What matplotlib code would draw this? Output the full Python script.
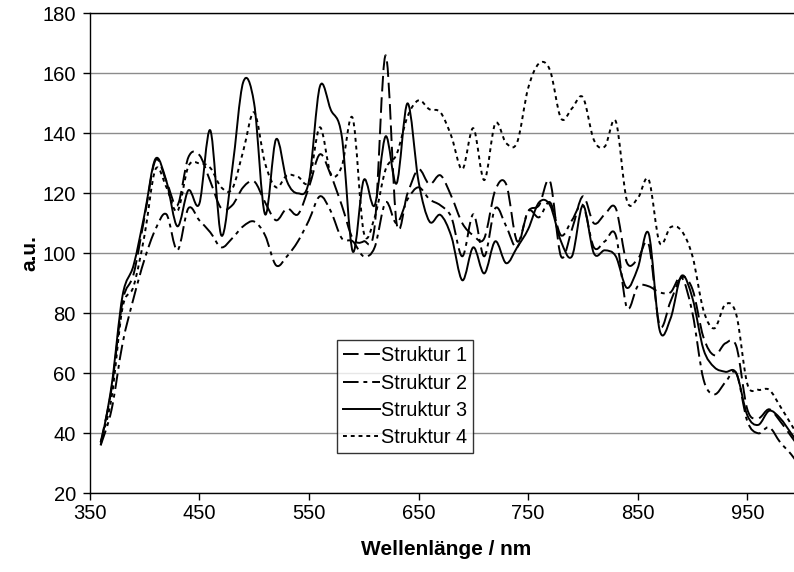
import numpy as np
import matplotlib
matplotlib.use("Agg")
import matplotlib.pyplot as plt
from matplotlib.path import Path
from matplotlib.patches import PathPatch
from matplotlib.lines import Line2D

plt.rcParams['font.family'] = ['Liberation Sans', 'DejaVu Sans']

wavelength = list(range(360, 1001, 10))

struktur_1 = [37, 55, 84, 93, 112, 131, 124, 116, 132, 132.8, 124, 115, 116, 122, 124,
              117, 111, 115, 113, 122, 133, 126, 116, 105, 104, 109, 166, 110, 120, 128,
              123, 126, 119, 110, 106, 105, 121, 123, 104, 114, 116, 124, 99, 108, 119,
              110, 113, 115, 97, 98, 103, 76, 84, 92, 88, 72, 66, 70, 69, 48,
              45, 48, 44, 39, 34]

struktur_2 = [36, 48, 70, 85, 98, 108, 113, 101, 115, 111, 107, 102, 105, 109, 110.6,
              106, 96, 99, 104, 111, 119, 114, 105, 104, 99, 102, 117, 110, 118, 122,
              118, 116, 112, 99, 113, 99, 115, 109, 102, 114, 112, 117, 106, 111, 116,
              102, 104, 106, 82, 89, 89, 87, 87, 92, 80, 58, 53, 57, 60, 44,
              40, 42, 37, 33, 28]

struktur_3 = [36, 56, 86, 96, 113, 131.5, 124, 109, 121, 116.5, 141, 106, 128, 157, 150,
              113, 138, 124, 120, 124, 155.6, 147.8, 139, 100.6, 124.4, 116, 139, 123.3, 150, 124,
              110.6, 112.8, 105.6, 91, 102, 93.3, 104, 96.7, 102, 108, 117, 116, 104, 99, 116,
              100, 101, 99, 88.5, 95, 106.6, 74.4, 78.3, 92.5, 85, 68, 62, 60.5, 60, 46,
              42.8, 47.5, 45, 40, 35]

struktur_4 = [37, 52, 82, 89, 106, 128, 122, 114, 129, 130, 128.5, 122, 121.5, 134, 147,
              130, 122, 126, 125.5, 124, 142, 126.5, 129, 145, 107, 112, 128, 133, 145.6, 151,
              148, 147, 139, 128, 141.7, 124.4, 143.3, 136.7, 137, 155, 163.3, 161, 145, 148.3, 152,
              137.8, 135.6, 144, 117.8, 118.3, 124.6, 103.5, 108.7, 107.5, 99, 81, 75, 83, 79.5, 56.5,
              54.5, 54.5, 49, 43, 37]

series_names = ["Struktur 1", "Struktur 2", "Struktur 3", "Struktur 4"]
x_ticks = [350, 450, 550, 650, 750, 850, 950]
y_ticks = [20, 40, 60, 80, 100, 120, 140, 160, 180]

styles = [
    dict(linestyle=(0, (8, 3)), linewidth=1.4),
    dict(linestyle=(0, (8, 2.5, 2, 2.5)), linewidth=1.4),
    dict(linestyle='-', linewidth=1.4),
    dict(linestyle=(0, (2, 2)), linewidth=1.4),
]


def smooth_path(xs, ys):
    """Bezier path through the points, Catmull-Rom style tangents."""
    pts = np.column_stack([xs, ys]).astype(float)
    n = len(pts)
    verts = [pts[0]]
    codes = [Path.MOVETO]
    for i in range(n - 1):
        p0 = pts[i - 1] if i > 0 else pts[i]
        p1 = pts[i]
        p2 = pts[i + 1]
        p3 = pts[i + 2] if i + 2 < n else pts[i + 1]
        c1 = p1 + (p2 - p0) / 6.0
        c2 = p2 - (p3 - p1) / 6.0
        verts += [c1, c2, p2]
        codes += [Path.CURVE4] * 3
    return Path(verts, codes)


fig = plt.figure(figsize=(7.94, 5.72), dpi=100)
ax = fig.add_axes([0.113, 0.1376, 0.8972, 0.8391])

ax.set_xlim(350, 1000)
ax.set_ylim(20, 180)
ax.set_yticks(y_ticks)
ax.set_xticks(x_ticks)
ax.yaxis.grid(True, color='#8c8c8c', linewidth=1.0)
ax.set_axisbelow(True)

handles = []
for ys, name, st in zip([struktur_1, struktur_2, struktur_3, struktur_4], series_names, styles):
    patch = PathPatch(smooth_path(wavelength, ys), facecolor='none', edgecolor='black',
                      transform=ax.transData, capstyle='butt', joinstyle='round', **st)
    ax.add_patch(patch)
    handles.append(Line2D([], [], color='black', label=name, **st))

for side in ['left', 'bottom', 'top']:
    ax.spines[side].set_color('black')
    ax.spines[side].set_linewidth(1.0)
ax.spines['right'].set_visible(False)

ax.tick_params(axis='both', direction='out', length=5, width=1, colors='black', labelsize=14.5)
ax.tick_params(axis='x', pad=3)
ax.tick_params(axis='y', pad=5)

ax.set_xlabel("Wellenlänge / nm", fontsize=15, fontweight='bold', labelpad=12)
ax.set_ylabel("a.u.", fontsize=15, fontweight='bold', labelpad=2)

leg = ax.legend(handles=handles, loc='lower left', bbox_to_anchor=(0.3476, 0.0833),
                borderaxespad=0, fontsize=14.3, frameon=True, fancybox=False,
                handlelength=1.85, handletextpad=0.05, labelspacing=0.42,
                borderpad=0.3)
leg.get_frame().set_edgecolor('black')
leg.get_frame().set_linewidth(1.0)

fig.savefig("out.png", dpi=100)
